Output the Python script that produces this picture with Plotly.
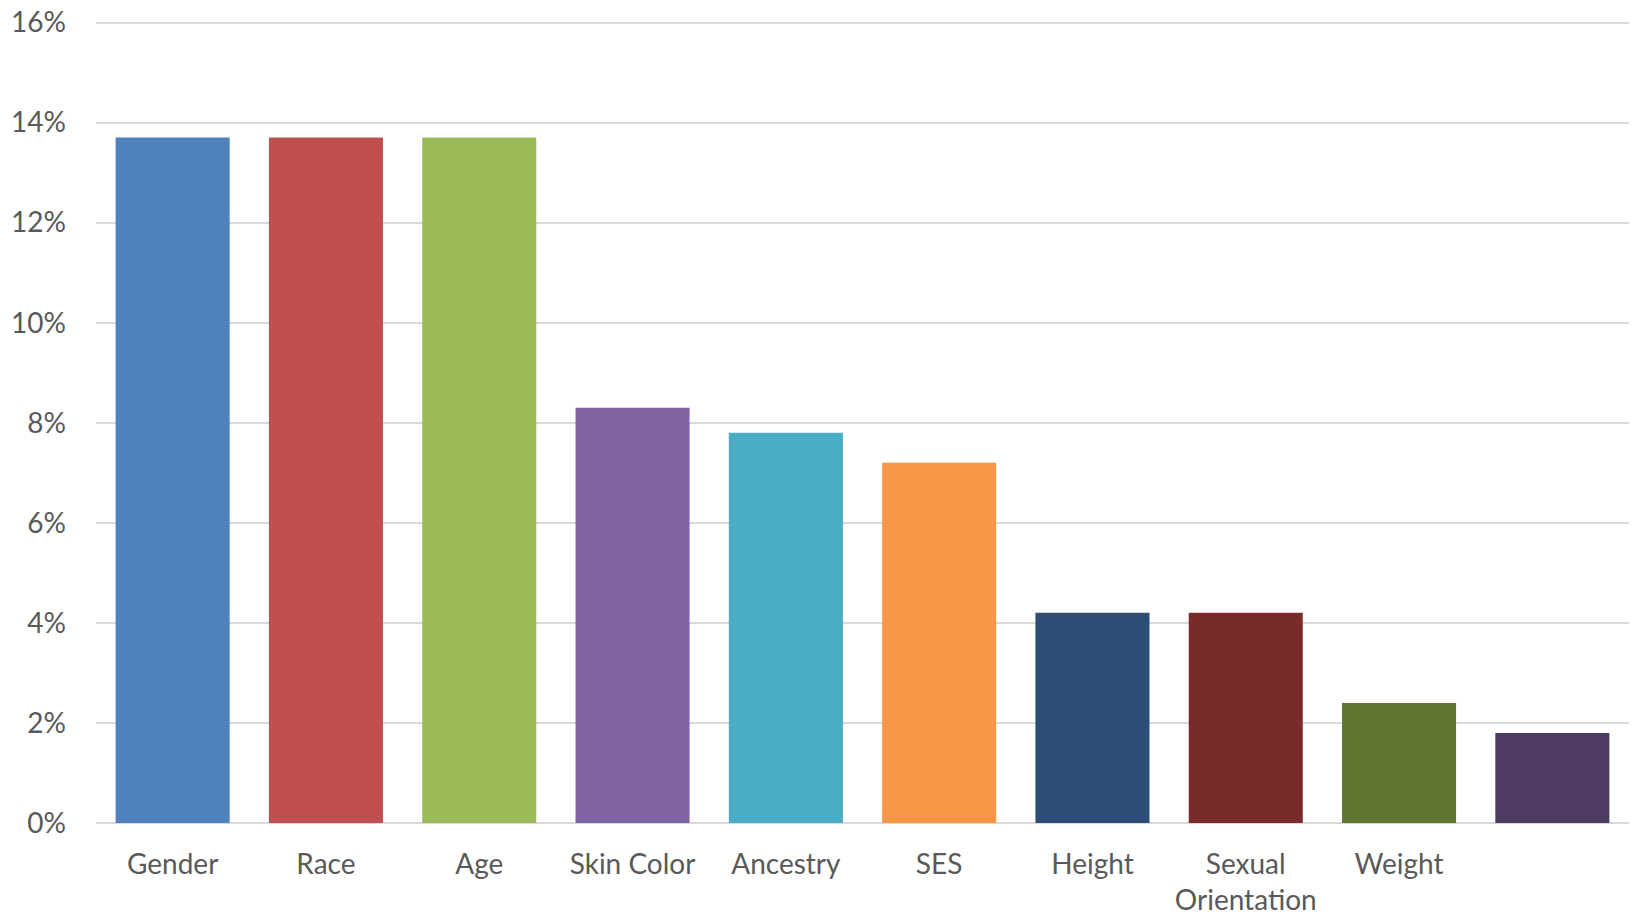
import plotly.graph_objects as go

categories = ["Gender", "Race", "Age", "Skin Color", "Ancestry", "SES", "Height",
              "Sexual<br>Orientation", "Weight", " "]
values = [13.7, 13.7, 13.7, 8.3, 7.8, 7.2, 4.2, 4.2, 2.4, 1.8]
colors = ["#4f81bd", "#c0504d", "#9bbb59", "#8064a2", "#4bacc6", "#f79646",
          "#2c4d75", "#772c2a", "#5f7530", "#4d3b62"]
y_ticks = [0, 2, 4, 6, 8, 10, 12, 14, 16]
y_tick_labels = [f"{v}%" for v in y_ticks]

fig = go.Figure(go.Bar(x=categories, y=values, marker=dict(color=colors, line=dict(width=0))))

fig.update_layout(
    width=1635, height=919,
    margin=dict(l=96, r=6, t=21, b=96),
    paper_bgcolor="white", plot_bgcolor="white",
    bargap=0.256,
    showlegend=False,
    font=dict(family="Lato, Open Sans, sans-serif", size=28, color="#595959"),
)
fig.update_xaxes(showgrid=False, showline=False, ticks="", ticklabelstandoff=22,
                 automargin=False, tickfont=dict(size=28, color="#595959"))
fig.update_yaxes(range=[0, 16.03], tickvals=y_ticks, ticktext=y_tick_labels,
                 showgrid=True, gridcolor="#d9d9d9", gridwidth=2,
                 zeroline=True, zerolinecolor="#d9d9d9", zerolinewidth=2,
                 showline=False, ticks="", ticklabelstandoff=29, automargin=False,
                 tickfont=dict(size=28, color="#595959"))

fig.write_html("out.html")
